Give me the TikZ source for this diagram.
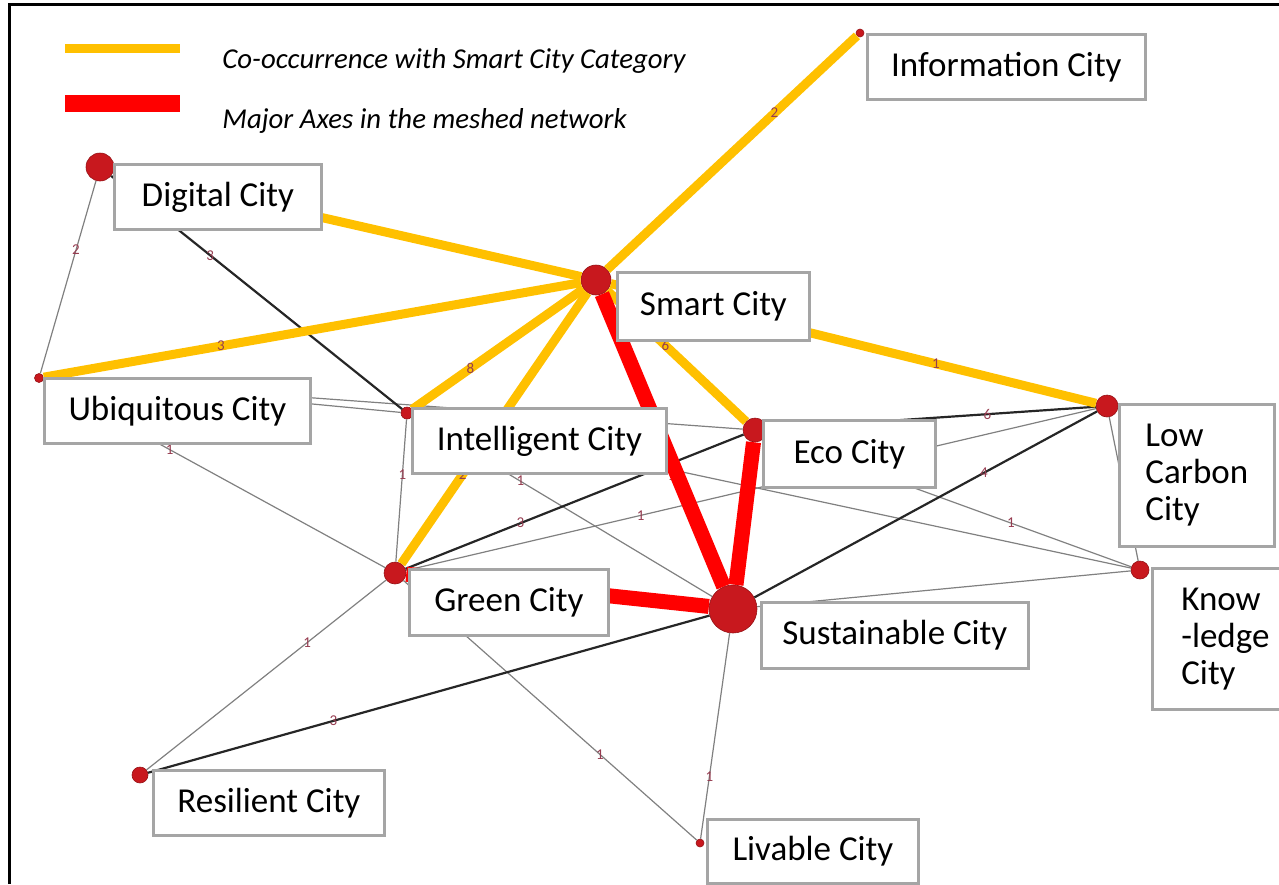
\documentclass[tikz,border=0pt]{standalone}
\usepackage{fontspec}
\setmainfont{Carlito}
\definecolor{cityred}{RGB}{200,24,30}
\definecolor{axisred}{RGB}{255,0,0}
\definecolor{smartyellow}{RGB}{255,192,0}
\definecolor{boxgray}{RGB}{165,165,165}
\definecolor{weightred}{RGB}{150,60,80}
\begin{document}
\begin{tikzpicture}
	[x=0.5pt, y=-0.5pt,
	citydot/.style={circle, fill=cityred, draw=cityred!75!black, line width=0.3pt, inner sep=0, minimum size=#1},
	citybox/.style={draw=boxgray, line width=1.4pt, fill=white, anchor=north west, inner sep=0, font=\fontsize{17.5}{18.5}\selectfont},
	smartlink/.style={smartyellow, line width=4.5pt},
	majorlink/.style={axisred, line width=7.5pt},
	thicklink/.style={black!85, line width=1.1pt},
	thinlink/.style={black!50, line width=0.6pt},
	weightlabel/.style={font=\fontsize{7.5}{7.5}\selectfont, text=weightred, inner sep=0.5pt},
	legendtext/.style={anchor=base west, inner sep=0, font=\fontsize{14.4}{16}\selectfont\itshape}]

	\useasboundingbox (0,0) rectangle (1279,884);
	\draw [line width=1.5pt] (9,884) -- (9,4) -- (1279,4);

	% legend
	\draw [smartlink] (65,48) -- (180,48);
	\draw [majorlink, line width=8.5pt] (65,103) -- (180,103);
	\node (cooccur) [legendtext] at (222,68) {Co-occurrence with Smart City Category};
	\node (majoraxes) [legendtext] at (222,128) {Major Axes in the meshed network};

	% city dots
	\node (information) [citydot=4pt] at (860,33) {};
	\node (digital) [citydot=14pt] at (100,167) {};
	\node (smart) [citydot=15pt] at (596,280) {};
	\node (ubiquitous) [citydot=4.5pt] at (39,378) {};
	\node (intelligent) [citydot=6pt] at (407,413) {};
	\node (eco) [citydot=12pt] at (755,430) {};
	\node (lowcarbon) [citydot=11pt] at (1107,406) {};
	\node (knowledge) [citydot=9pt] at (1140,570) {};
	\node (green) [citydot=11pt] at (395,573) {};
	\node (sustainable) [citydot=24pt] at (733,609) {};
	\node (resilient) [citydot=8pt] at (140,775) {};
	\node (livable) [citydot=4pt] at (700,843) {};

	% weak links
	\draw [thinlink] (digital) -- node [weightlabel, pos=0.36] {2} (ubiquitous);
	\draw [thinlink] (ubiquitous) -- (intelligent);
	\draw [thinlink] (ubiquitous) -- (eco);
	\draw [thinlink] (ubiquitous) -- node [weightlabel, pos=0.37] {1} (green);
	\draw [thinlink] (intelligent) -- node [weightlabel, pos=0.39] {1} (green);
	\draw [thinlink] (intelligent) -- node [weightlabel, pos=0.36] {1} (sustainable);
	\draw [thinlink] (intelligent) -- node [weightlabel, pos=0.36, below] {1} (knowledge);
	\draw [thinlink] (green) -- node [weightlabel, pos=0.34] {1} (lowcarbon);
	\draw [thinlink] (eco) -- node [weightlabel, pos=0.67] {1} (knowledge);
	\draw [thinlink] (sustainable) -- (knowledge);
	\draw [thinlink] (lowcarbon) -- (knowledge);
	\draw [thinlink] (green) -- node [weightlabel, pos=0.33] {1} (resilient);
	\draw [thinlink] (green) -- node [weightlabel, pos=0.67] {1} (livable);
	\draw [thinlink] (sustainable) -- node [weightlabel, pos=0.7] {1} (livable);

	% strong links
	\draw [thicklink] (digital) -- node [weightlabel, pos=0.34] {3} (intelligent);
	\draw [thicklink] (green) -- node [weightlabel, pos=0.34] {3} (eco);
	\draw [thicklink] (eco) -- node [weightlabel, pos=0.67] {6} (lowcarbon);
	\draw [thicklink] (sustainable) -- node [weightlabel, pos=0.67] {4} (lowcarbon);
	\draw [thicklink] (resilient) -- node [weightlabel, pos=0.33] {3} (sustainable);

	% co-occurrence with smart city
	\draw [smartlink] (smart) -- node [weightlabel, pos=0.67] {2} (information);
	\draw [smartlink] (digital) -- (smart);
	\draw [smartlink] (ubiquitous) -- node [weightlabel, pos=0.33] {3} (smart);
	\draw [smartlink] (intelligent) -- node [weightlabel, pos=0.34] {8} (smart);
	\draw [smartlink] (green) -- node [weightlabel, pos=0.33] {2} (smart);
	\draw [smartlink] (smart) -- node [weightlabel, pos=0.42] {6} (eco);
	\draw [smartlink] (smart) -- node [weightlabel, pos=0.67] {1} (lowcarbon);

	% major axes
	\draw [majorlink] (smart) -- (sustainable);
	\draw [majorlink] (eco) -- (sustainable);
	\draw [majorlink] (green) -- (sustainable);

	% city boxes
	\node (informationbox) [citybox, minimum width=139pt, minimum height=32.5pt] at (866,33) {Information City};
	\node (digitalbox) [citybox, minimum width=103.5pt, minimum height=32.5pt] at (113,163) {Digital City};
	\node (smartbox) [citybox, minimum width=96pt, minimum height=34pt] at (616,271) {Smart City};
	\node (ubiquitousbox) [citybox, minimum width=133pt, minimum height=32.5pt] at (43,377) {Ubiquitous City};
	\node (intelligentbox) [citybox, minimum width=127pt, minimum height=32.5pt] at (411,407) {Intelligent City};
	\node (ecobox) [citybox, minimum width=86pt, minimum height=33.5pt] at (762,419) {Eco City};
	\node (lowcarbonbox) [citybox, align=left, minimum width=77.5pt, minimum height=71pt] at (1118,403) {Low\\Carbon\\City};
	\node (knowledgebox) [citybox, align=left, minimum width=73pt, minimum height=70.5pt] at (1151,567) {Know\\-ledge\\City};
	\node (greenbox) [citybox, minimum width=99.5pt, minimum height=33pt] at (408,568) {Green City};
	\node (sustainablebox) [citybox, minimum width=133.5pt, minimum height=33pt] at (760,601) {Sustainable City};
	\node (resilientbox) [citybox, minimum width=115.5pt, minimum height=32.5pt] at (152,769) {Resilient City};
	\node (livablebox) [citybox, minimum width=105.5pt, minimum height=32pt] at (706,818) {Livable City};
\end{tikzpicture}
\end{document}
